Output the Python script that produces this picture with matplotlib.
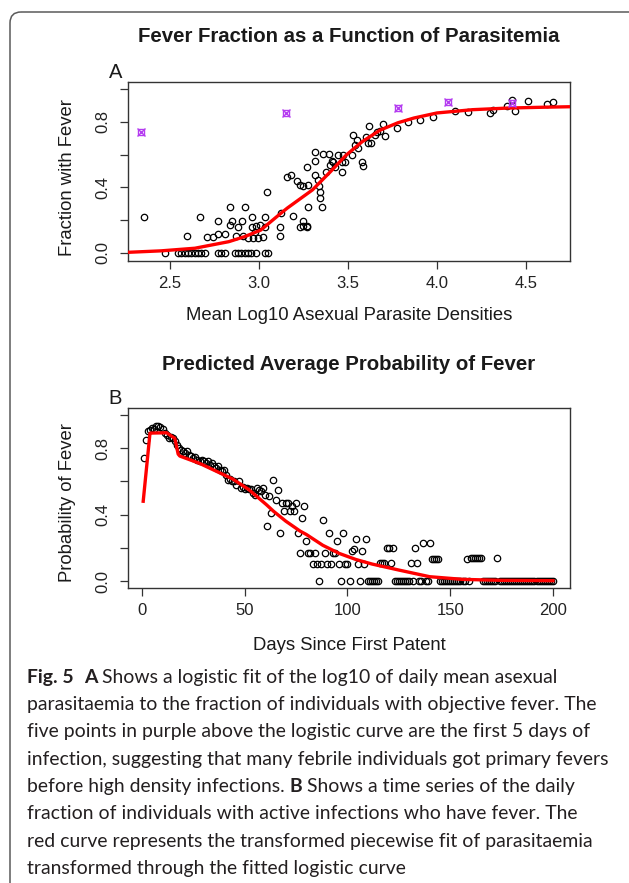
import matplotlib
matplotlib.use('Agg')
import matplotlib.pyplot as plt
from matplotlib.patches import FancyBboxPatch

# ---------------- data ----------------
# Panel A: mean log10 parasite density vs fraction with fever
a_x = [2.354, 2.474, 2.597, 2.670, 2.710, 2.742, 2.770, 2.807, 2.770, 2.835, 2.848, 2.835,
       2.882, 2.906, 2.920, 2.873, 2.910, 2.961, 2.961, 2.985, 3.004, 2.976, 2.938, 2.966,
       2.994, 3.022, 3.032, 3.032, 3.047, 3.116, 3.116, 3.125,
       2.545, 2.564, 2.583, 2.601, 2.620, 2.639, 2.657, 2.676, 2.695, 2.770, 2.789, 2.807,
       2.863, 2.882, 2.901, 2.920, 2.938, 2.957, 2.985, 3.032, 3.051,
       3.193, 3.230, 3.268, 3.245, 3.277, 3.178, 3.215, 3.230, 3.245, 3.277, 3.268, 3.315,
       3.315, 3.315, 3.333, 3.339, 3.343, 3.343, 3.352, 3.361, 3.395, 3.375, 3.408, 3.417,
       3.399, 3.427, 3.446, 3.474, 3.465, 3.465, 3.483, 3.521, 3.530, 3.549, 3.539, 3.558,
       3.577, 3.583, 3.601, 3.614, 3.627, 3.620, 3.661, 3.652, 3.680, 3.698, 3.708, 3.774,
       3.839, 3.904, 3.979, 4.101, 4.172, 4.298, 4.316, 4.391, 4.419, 4.438, 4.509, 4.616,
       4.653, 3.155, 3.245, 3.271]
a_y = [0.218, 0.0, 0.104, 0.218, 0.100, 0.100, 0.116, 0.116, 0.197, 0.283, 0.197, 0.171,
       0.157, 0.197, 0.283, 0.104, 0.104, 0.222, 0.157, 0.165, 0.171, 0.130, 0.090, 0.090,
       0.090, 0.100, 0.222, 0.157, 0.374, 0.161, 0.104, 0.246,
       0.0, 0.0, 0.0, 0.0, 0.0, 0.0, 0.0, 0.0, 0.0, 0.0, 0.0, 0.0,
       0.0, 0.0, 0.0, 0.0, 0.0, 0.0, 0.0, 0.0, 0.0,
       0.226, 0.161, 0.161, 0.197, 0.283, 0.476, 0.441, 0.415, 0.409, 0.415, 0.527, 0.619,
       0.564, 0.476, 0.446, 0.409, 0.374, 0.334, 0.283, 0.605, 0.605, 0.497, 0.564, 0.558,
       0.537, 0.527, 0.598, 0.598, 0.558, 0.497, 0.558, 0.598, 0.720, 0.690, 0.660, 0.639,
       0.558, 0.531, 0.710, 0.674, 0.670, 0.776, 0.741, 0.721, 0.745, 0.788, 0.715, 0.761,
       0.802, 0.812, 0.829, 0.867, 0.863, 0.853, 0.873, 0.898, 0.934, 0.869, 0.930, 0.908,
       0.924, 0.466, 0.167, 0.167]

# first 5 days of infection (purple)
early_x = [2.335, 3.150, 3.783, 4.064, 4.420]
early_y = [0.741, 0.857, 0.887, 0.920, 0.918]

# fitted logistic curve
fitA_x = [2.264, 2.45, 2.64, 2.83, 2.92, 3.01, 3.12, 3.16, 3.23, 3.30, 3.40, 3.49, 3.58,
          3.68, 3.78, 3.87, 4.00, 4.20, 4.40, 4.60, 4.747]
fitA_y = [0.004, 0.013, 0.029, 0.069, 0.100, 0.140, 0.240, 0.275, 0.330, 0.385, 0.495,
          0.598, 0.680, 0.750, 0.795, 0.824, 0.855, 0.875, 0.885, 0.890, 0.893]

# Panel B: daily fraction with fever, days since first patent
b_days = list(range(1, 201))
b_fever = [
    0.74, 0.85, 0.90, 0.91, 0.92, 0.915, 0.93, 0.93, 0.925, 0.915,
    0.89, 0.88, 0.86, 0.865, 0.86, 0.84, 0.82, 0.80, 0.79, 0.785,
    0.77, 0.78, 0.76, 0.75, 0.74, 0.745, 0.73, 0.72, 0.73, 0.725,
    0.71, 0.72, 0.70, 0.71, 0.69, 0.68, 0.695, 0.665, 0.66, 0.67,
    0.64, 0.61, 0.615, 0.60, 0.60, 0.58, 0.60, 0.56, 0.565, 0.555,
    0.56, 0.555, 0.555, 0.53, 0.515, 0.56, 0.55, 0.54, 0.56, 0.52,
    0.33, 0.51, 0.41, 0.61, 0.49, 0.55, 0.29, 0.47, 0.42, 0.47,
    0.47, 0.42, 0.45, 0.42, 0.47, 0.29, 0.17, 0.38, 0.45, 0.24,
    0.17, 0.17, 0.10, 0.17, 0.10, 0.0, 0.10, 0.37, 0.17, 0.10,
    0.29, 0.10, 0.17, 0.17, 0.24, 0.10, 0.0, 0.29, 0.10, 0.10,
    0.0, 0.18, 0.19, 0.25, 0.10, 0.0, 0.18, 0.10, 0.25, 0.0,
    0.0, 0.0, 0.0, 0.0, 0.0, 0.11, 0.11, 0.11, 0.20, 0.20,
    0.11, 0.20, 0.0, 0.0, 0.0, 0.0, 0.0, 0.0, 0.0, 0.0,
    0.11, 0.0, 0.20, 0.11, 0.0, 0.0, 0.23, 0.0, 0.0, 0.23,
    0.13, 0.13, 0.13, 0.13, 0.0, 0.0, 0.0, 0.0, 0.0, 0.0,
    0.0, 0.0, 0.0, 0.0, 0.0, 0.0, 0.0, 0.13, 0.0, 0.14,
    0.14, 0.14, 0.14, 0.14, 0.14, 0.0, 0.0, 0.0, 0.0, 0.0,
    0.0, 0.0, 0.14, 0.0, 0.0, 0.0, 0.0, 0.0, 0.0, 0.0,
    0.0, 0.0, 0.0, 0.0, 0.0, 0.0, 0.0, 0.0, 0.0, 0.0,
    0.0, 0.0, 0.0, 0.0, 0.0, 0.0, 0.0, 0.0, 0.0, 0.0,
]

# predicted (piecewise fit through logistic)
fitB_x = [0.6, 3.9, 12.0, 16.0, 17.6, 18.4, 28.0, 44.0, 52.0, 60.5, 64.0, 70.0, 77.0,
          80.0, 88.0, 96.0, 104.0, 112.0, 125.0, 140.0, 156.0, 175.0, 200.0]
fitB_y = [0.48, 0.89, 0.892, 0.858, 0.764, 0.752, 0.708, 0.615, 0.55, 0.46, 0.42, 0.36,
          0.30, 0.28, 0.215, 0.166, 0.13, 0.102, 0.066, 0.026, 0.010, 0.004, 0.002]

a_xticks = [2.5, 3.0, 3.5, 4.0, 4.5]
b_xticks = [0, 50, 100, 150, 200]
y_ticks = [0.0, 0.2, 0.4, 0.6, 0.8, 1.0]
y_ticklabels = ['0.0', '', '0.4', '', '0.8', '']

title_a = 'Fever Fraction as a Function of Parasitemia'
title_b = 'Predicted Average Probability of Fever'
xlabel_a = 'Mean Log10 Asexual Parasite Densities'
ylabel_a = 'Fraction with Fever'
xlabel_b = 'Days Since First Patent'
ylabel_b = 'Probability of Fever'

caption = [
    [('Fig. 5', True), ('  ', False), ('A', True), (' Shows a logistic fit of the log10 of daily mean asexual', False)],
    [('parasitaemia to the fraction of individuals with objective fever. The', False)],
    [('five points in purple above the logistic curve are the first 5 days of', False)],
    [('infection, suggesting that many febrile individuals got primary fevers', False)],
    [('before high density infections. ', False), ('B', True), (' Shows a time series of the daily', False)],
    [('fraction of individuals with active infections who have fever. The', False)],
    [('red curve represents the transformed piecewise fit of parasitaemia', False)],
    [('transformed through the fitted logistic curve', False)],
]

# ---------------- figure ----------------
W, H = 629, 883
fig = plt.figure(figsize=(W / 100, H / 100), dpi=100)
fig.patch.set_facecolor('white')

bg = fig.add_axes([0, 0, 1, 1])
bg.set_xlim(0, W)
bg.set_ylim(H, 0)
bg.axis('off')
bg.add_patch(FancyBboxPatch((10, 12), 650, 900, boxstyle='round,pad=0,rounding_size=11',
                            fill=False, ec='#5a5a5a', lw=1.1))

RFONT = 'Liberation Sans'
AXC = '#333333'


def px_axes(l, t, r, b):
    return fig.add_axes([l / W, 1 - b / H, (r - l) / W, (b - t) / H])


def style(ax, xticks):
    for s in ax.spines.values():
        s.set_color(AXC)
        s.set_linewidth(1.0)
    ax.set_xticks(xticks)
    ax.set_xticklabels([('%g' % v) if isinstance(v, int) else ('%.1f' % v) for v in xticks],
                       family=RFONT, fontsize=12)
    ax.set_yticks(y_ticks)
    ax.set_yticklabels(y_ticklabels, family=RFONT, fontsize=12, rotation=90, va='center')
    ax.tick_params(axis='both', direction='out', length=6, width=0.9, color=AXC,
                   labelcolor='#222222')
    ax.tick_params(axis='x', pad=5)
    ax.tick_params(axis='y', pad=7)


def ptext(x, y, s, **kw):
    kw.setdefault('family', RFONT)
    kw.setdefault('ha', 'center')
    kw.setdefault('va', 'center')
    kw.setdefault('color', '#1a1a1a')
    fig.text(x / W, 1 - y / H, s, **kw)


# Panel A
axA = px_axes(128, 82, 570, 261)
axA.set_xlim(2.264, 4.747)
axA.set_ylim(-0.049, 1.044)
axA.plot(a_x, a_y, 'o', ms=4.6, mfc='none', mec='black', mew=0.9, zorder=2)
axA.plot(fitA_x, fitA_y, '-', color='#ff0000', lw=2.4, zorder=3)
axA.plot(early_x, early_y, 's', ms=4.5, mfc='none', mec='#b43cf0', mew=1.0, zorder=4)
axA.plot(early_x, early_y, 'x', ms=5.5, mec='#b43cf0', mew=1.0, zorder=4)
style(axA, a_xticks)

# Panel B
axB = px_axes(128, 408, 570, 588)
axB.set_xlim(-6.8, 208.3)
axB.set_ylim(-0.042, 1.041)
axB.plot(b_days, b_fever, 'o', ms=4.6, mfc='none', mec='black', mew=0.9, zorder=2)
axB.plot(fitB_x, fitB_y, '-', color='#ff0000', lw=2.4, zorder=3)
style(axB, b_xticks)

# titles and labels
ptext(349, 37, title_a, fontsize=14.7, fontweight='bold')
ptext(116, 72, 'A', fontsize=14.5)
ptext(349, 316, xlabel_a, fontsize=13.3)
ptext(68, 178, ylabel_a, fontsize=13.3, rotation=90)

ptext(349, 364, title_b, fontsize=14.7, fontweight='bold')
ptext(115, 398, 'B', fontsize=14.5)
ptext(349, 645, xlabel_b, fontsize=13.3)
ptext(68, 503, ylabel_b, fontsize=13.3, rotation=90)

# caption
CAP_FONT = 'Lato'
renderer = fig.canvas.get_renderer()


def measure(s, bold, size):
    t = fig.text(0, 0, '|' + s + '|', fontsize=size, family=CAP_FONT,
                 fontweight='bold' if bold else 'normal')
    w1 = t.get_window_extent(renderer).width
    t.remove()
    t = fig.text(0, 0, '||', fontsize=size, family=CAP_FONT,
                 fontweight='bold' if bold else 'normal')
    w2 = t.get_window_extent(renderer).width
    t.remove()
    return w1 - w2


ref_w = measure(caption[3][0][0], False, 10)
cap_size = 10 * 581 / ref_w

cap_x0 = 27
cap_base = [683, 710, 737, 765, 792, 819, 847, 874]
for line, yb in zip(caption, cap_base):
    x = cap_x0
    for seg, bold in line:
        fig.text(x / W, 1 - yb / H, seg, fontsize=cap_size, family=CAP_FONT,
                 fontweight='bold' if bold else 'normal', ha='left', va='baseline',
                 color='#231f20')
        x += measure(seg, bold, cap_size)

fig.savefig('out.png', dpi=100, facecolor='white')
